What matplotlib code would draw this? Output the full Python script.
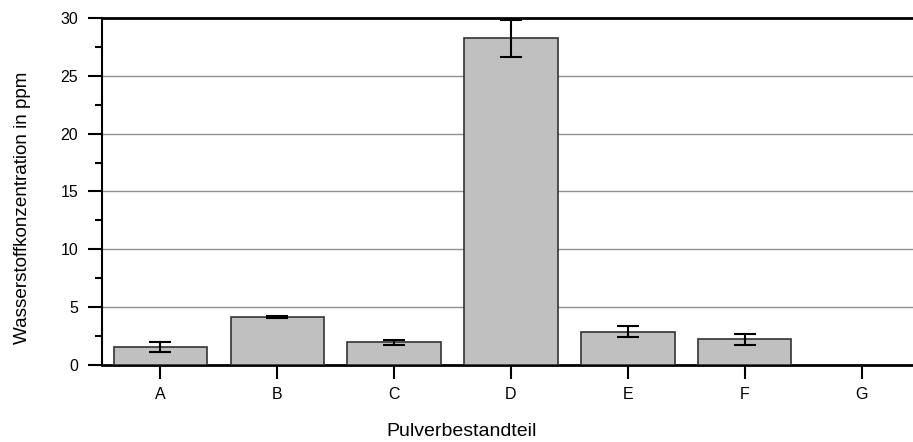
import matplotlib.pyplot as plt
from matplotlib.ticker import MultipleLocator

plt.rcParams['font.family'] = ['Liberation Sans', 'DejaVu Sans']

categories = ['A', 'B', 'C', 'D', 'E', 'F', 'G']
values = [1.55, 4.18, 1.95, 28.25, 2.88, 2.22, 0.0]
errors = [0.43, 0.08, 0.25, 1.6, 0.47, 0.47, 0.0]

fig = plt.figure(figsize=(9.13, 4.42), dpi=100)
ax = fig.add_axes([0.1117, 0.1742, 0.8883, 0.7851])

x = list(range(len(categories)))
ax.bar(x[:-1], values[:-1], width=0.8, color='#c0c0c0', edgecolor='#333333',
       linewidth=1.2, zorder=3)
ax.errorbar(x[:-1], values[:-1], yerr=errors[:-1], fmt='none', ecolor='black',
            elinewidth=1.5, capsize=8, capthick=1.5, zorder=4)

ax.set_xlim(-0.5, 6.44)
ax.set_ylim(0, 30)
ax.set_xticks(x)
ax.set_xticklabels(categories)
ax.yaxis.set_major_locator(MultipleLocator(5))
ax.yaxis.set_minor_locator(MultipleLocator(2.5))
ax.tick_params(axis='both', which='major', length=10, width=1.5, labelsize=11.5)
ax.tick_params(axis='y', which='minor', length=5, width=1.5)
ax.tick_params(axis='y', pad=7)
ax.tick_params(axis='x', pad=6)

for yv in [5, 10, 15, 20, 25]:
    ax.axhline(yv, color='#909090', linewidth=1.0, zorder=1)

ax.spines['right'].set_visible(False)
ax.spines['top'].set_linewidth(2)
ax.spines['bottom'].set_linewidth(2)
ax.spines['left'].set_linewidth(1.5)

ax.set_xlabel('Pulverbestandteil', fontsize=14)
ax.set_ylabel('Wasserstoffkonzentration in ppm', fontsize=13.6)
ax.xaxis.set_label_coords(0.443, -0.167)
ax.yaxis.set_label_coords(-0.088, 0.452)

fig.savefig('out.png', dpi=100)
